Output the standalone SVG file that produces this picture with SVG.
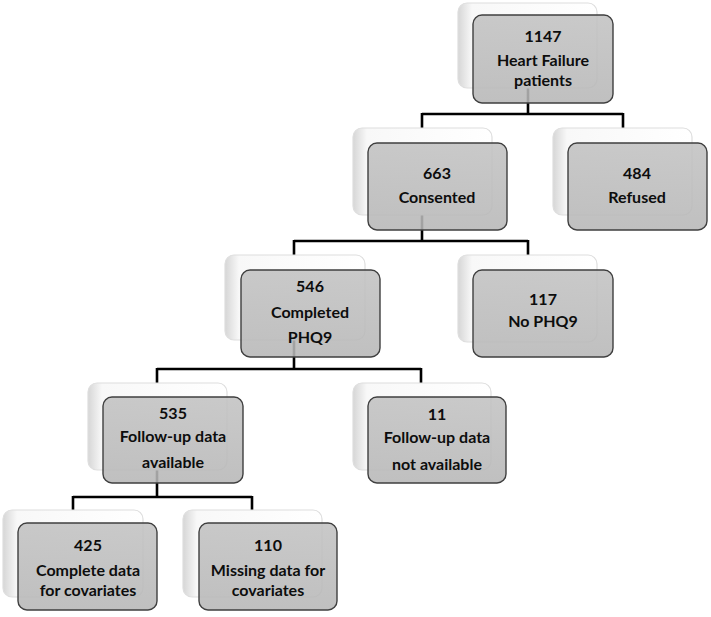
<svg xmlns="http://www.w3.org/2000/svg" width="711" height="617" viewBox="0 0 711 617">
<defs>
<linearGradient id="backGrad" x1="0" y1="0" x2="1" y2="0">
<stop offset="0" stop-color="#d6d6d6"/>
<stop offset="0.1" stop-color="#f8f8f8"/>
<stop offset="1" stop-color="#ffffff"/>
</linearGradient>
<linearGradient id="frontGrad" x1="0" y1="0" x2="0" y2="1">
<stop offset="0" stop-color="#c2c2c2"/>
<stop offset="1" stop-color="#b7b7b7"/>
</linearGradient>
</defs>
<style>
.back{fill:url(#backGrad);stroke:#dedede;stroke-width:1.2}
.front{fill:url(#frontGrad);fill-opacity:0.88;stroke:#3f3f3f;stroke-width:1.4}
.conn{fill:none;stroke:#000;stroke-width:2.6}
text{font-family:Lato,"Liberation Sans",sans-serif;font-weight:bold;font-size:16px;fill:#0d0d0d;text-anchor:middle}
</style>
<rect width="711" height="617" fill="#ffffff"/>
<g id="connectors">
<path class="conn" d="M528,88 V114 M422,114 H623 M422,113 V128 M623,113 V128"/>
<path class="conn" d="M422,215 V241 M294,241 H528 M294,240 V255 M528,240 V255"/>
<path class="conn" d="M294,340 V369 M157,369 H421 M157,368 V383 M421,368 V383"/>
<path class="conn" d="M157,470 V497 M73,497 H252 M73,496 V510 M252,496 V510"/>
</g>
<g id="n1147">
<rect class="back" x="458" y="3" width="139" height="85" rx="9"/>
<rect class="front" x="473" y="15" width="140" height="88" rx="9"/>
<text x="543" y="42">1147</text>
<text x="543" y="66">Heart Failure</text>
<text x="543" y="86">patients</text>
</g>
<g id="n663">
<rect class="back" x="353" y="128" width="139" height="87" rx="9"/>
<rect class="front" x="368" y="143" width="139" height="87" rx="9"/>
<text x="437" y="179">663</text>
<text x="437" y="203">Consented</text>
</g>
<g id="n484">
<rect class="back" x="553" y="128" width="139" height="87" rx="9"/>
<rect class="front" x="568" y="143" width="139" height="87" rx="9"/>
<text x="637" y="179">484</text>
<text x="637" y="203">Refused</text>
</g>
<g id="n546">
<rect class="back" x="225" y="255" width="140" height="85" rx="9"/>
<rect class="front" x="241" y="270" width="139" height="87" rx="9"/>
<text x="310" y="292">546</text>
<text x="310" y="318">Completed</text>
<text x="310" y="343">PHQ9</text>
</g>
<g id="n117">
<rect class="back" x="458" y="255" width="139" height="87" rx="9"/>
<rect class="front" x="473" y="270" width="140" height="87" rx="9"/>
<text x="543" y="305">117</text>
<text x="543" y="327">No PHQ9</text>
</g>
<g id="n535">
<rect class="back" x="88" y="383" width="139" height="87" rx="9"/>
<rect class="front" x="103" y="397" width="140" height="86" rx="9"/>
<text x="173" y="419">535</text>
<text x="173" y="442">Follow-up data</text>
<text x="173" y="468">available</text>
</g>
<g id="n11">
<rect class="back" x="353" y="383" width="138" height="87" rx="9"/>
<rect class="front" x="368" y="397" width="138" height="86" rx="9"/>
<text x="437" y="420">11</text>
<text x="437" y="443">Follow-up data</text>
<text x="437" y="470">not available</text>
</g>
<g id="n425">
<rect class="back" x="3" y="510" width="140" height="87" rx="9"/>
<rect class="front" x="18" y="523" width="139" height="87" rx="9"/>
<text x="88" y="551">425</text>
<text x="88" y="576">Complete data</text>
<text x="88" y="596">for covariates</text>
</g>
<g id="n110">
<rect class="back" x="183" y="510" width="139" height="87" rx="9"/>
<rect class="front" x="199" y="523" width="138" height="87" rx="9"/>
<text x="268" y="551">110</text>
<text x="268" y="576">Missing data for</text>
<text x="268" y="596">covariates</text>
</g>
</svg>
